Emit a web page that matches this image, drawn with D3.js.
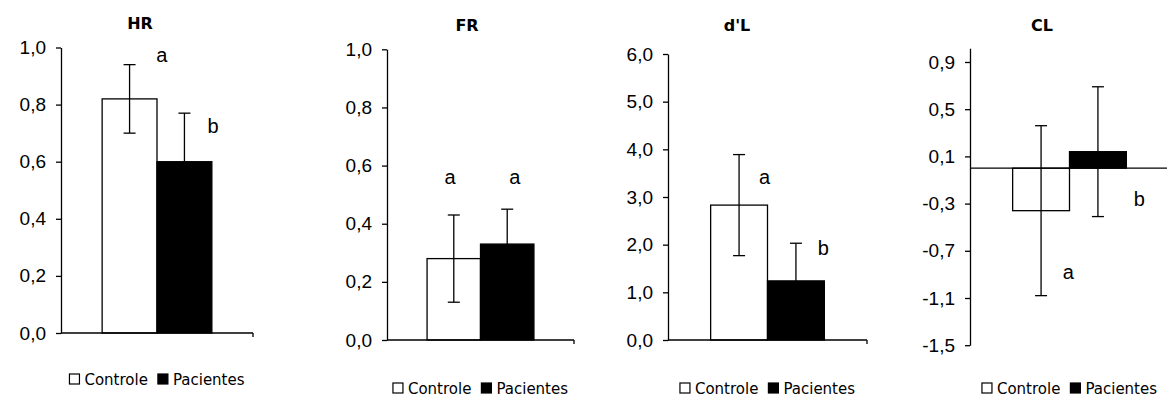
<!DOCTYPE html>
<html>
<head>
<meta charset="utf-8">
<script src="https://cdn.jsdelivr.net/npm/d3@7"></script>
<style>
  body { margin: 0; background: #fff; }
  svg { display: block; }
</style>
</head>
<body>
<svg id="chart" width="1167" height="399"></svg>
<script>
// values (mean +/- error)
const panelNames = ['HR', 'FR', "d'L", 'CL'];
const seriesNames = ['Controle', 'Pacientes'];
const controleMeans = [0.82, 0.28, 2.83, -0.36];
const controleErrors = [0.12, 0.15, 1.06, 0.72];
const pacientesMeans = [0.60, 0.33, 1.24, 0.14];
const pacientesErrors = [0.17, 0.12, 0.79, 0.55];
const controleLetters = ['a', 'a', 'a', 'a'];
const pacientesLetters = ['b', 'a', 'b', 'b'];

const yDomains = [[0, 1], [0, 1], [0, 6], [-1.5, 1.016]];
const yTickValues = [
  [0, 0.2, 0.4, 0.6, 0.8, 1.0],
  [0, 0.2, 0.4, 0.6, 0.8, 1.0],
  [0, 1, 2, 3, 4, 5, 6],
  [-1.5, -1.1, -0.7, -0.3, 0.1, 0.5, 0.9]
];

// where the significance letters sit: [fraction across the bar band, y value]
const letterSpots = [
  [[1.09, 0.974], [1.02, 0.725]],
  [[0.43, 0.562], [0.64, 0.562]],
  [[0.95, 3.43], [0.98, 1.93]],
  [[0.98, -0.879], [1.23, -0.263]]
];

const layout = [
  { left: 61, right: 253, top: 47.5, bottom: 333, titleX: 140, titleY: 23, legendY: 379 },
  { left: 387, right: 574, top: 49.3, bottom: 340, titleX: 467, titleY: 25, legendY: 388 },
  { left: 668, right: 867, top: 54, bottom: 340, titleX: 737, titleY: 25, legendY: 388 },
  { left: 970, right: 1169, top: 48.3, bottom: 345.2, titleX: 1042, titleY: 25, legendY: 388 }
];

const fmt = d3.formatLocale({
  decimal: ',', thousands: '.', grouping: [3], currency: ['', ''], minus: '-'
}).format('.1f');

const svg = d3.select('#chart');
svg.append('rect').attr('width', 1167).attr('height', 399).attr('fill', '#fff');

panelNames.forEach((name, i) => {
  const L = layout[i];
  const g = svg.append('g');

  const y = d3.scaleLinear().domain(yDomains[i]).range([L.bottom, L.top]);
  const x = d3.scaleBand().domain(seriesNames).range([L.left, L.right])
    .paddingInner(0).paddingOuter(0.75);

  const bars = [
    { s: 'Controle', m: controleMeans[i], e: controleErrors[i], fill: '#fff', letter: controleLetters[i], spot: letterSpots[i][0] },
    { s: 'Pacientes', m: pacientesMeans[i], e: pacientesErrors[i], fill: '#000', letter: pacientesLetters[i], spot: letterSpots[i][1] }
  ];

  // bars
  g.selectAll('.bar')
    .data(bars)
    .enter()
    .append('rect')
    .attr('class', 'bar')
    .attr('x', d => x(d.s))
    .attr('y', d => y(Math.max(0, d.m)))
    .attr('width', x.bandwidth())
    .attr('height', d => Math.abs(y(d.m) - y(0)))
    .attr('fill', d => d.fill)
    .attr('stroke', '#000')
    .attr('stroke-width', 1.3);

  // x axis line at zero
  g.append('line')
    .attr('x1', L.left).attr('x2', L.right)
    .attr('y1', y(0)).attr('y2', y(0))
    .attr('stroke', '#000').attr('stroke-width', 1.3);
  g.append('line')
    .attr('x1', L.right).attr('x2', L.right)
    .attr('y1', y(0)).attr('y2', y(0) + 4)
    .attr('stroke', '#000').attr('stroke-width', 1.3);

  // error bars
  const cap = 6;
  bars.forEach(d => {
    const cx = x(d.s) + x.bandwidth() / 2;
    g.append('line')
      .attr('x1', cx).attr('x2', cx)
      .attr('y1', y(d.m - d.e)).attr('y2', y(d.m + d.e))
      .attr('stroke', '#000').attr('stroke-width', 1.3);
    [d.m - d.e, d.m + d.e].forEach(v => {
      g.append('line')
        .attr('x1', cx - cap).attr('x2', cx + cap)
        .attr('y1', y(v)).attr('y2', y(v))
        .attr('stroke', '#000').attr('stroke-width', 1.3);
    });
  });

  // y axis
  const yAxis = g.append('g')
    .attr('transform', `translate(${L.left},0)`)
    .call(d3.axisLeft(y).tickValues(yTickValues[i]).tickFormat(fmt)
      .tickSize(5).tickSizeOuter(0).tickPadding(10));
  yAxis.select('.domain').attr('stroke-width', 1.3);
  yAxis.selectAll('.tick line').attr('stroke-width', 1.3);
  yAxis.selectAll('.tick text')
    .attr('font-family', 'Liberation Sans, Arial, sans-serif')
    .attr('font-size', 19)
    .attr('fill', '#000');

  // significance letters
  bars.forEach(d => {
    g.append('text')
      .attr('x', x(d.s) + d.spot[0] * x.bandwidth())
      .attr('y', y(d.spot[1]))
      .attr('dy', '0.35em')
      .attr('text-anchor', 'middle')
      .attr('font-family', 'Liberation Sans, Arial, sans-serif')
      .attr('font-size', 20)
      .text(d.letter);
  });

  // title
  g.append('text')
    .attr('x', L.titleX).attr('y', L.titleY)
    .attr('dy', '0.35em')
    .attr('text-anchor', 'middle')
    .attr('font-family', 'DejaVu Sans, sans-serif')
    .attr('font-weight', 'bold')
    .attr('font-size', 16)
    .text(name);

  // legend
  const lg = g.append('g');
  let cursor = 0;
  bars.forEach((d, k) => {
    lg.append('rect')
      .attr('x', cursor).attr('y', -5)
      .attr('width', 10).attr('height', 10)
      .attr('fill', d.fill).attr('stroke', '#000').attr('stroke-width', 1.2);
    cursor += 15;
    const t = lg.append('text')
      .attr('x', cursor).attr('y', 5.5)
      .attr('font-family', 'DejaVu Sans, sans-serif')
      .attr('font-size', 15)
      .text(d.s);
    cursor += t.node().getComputedTextLength() + (k === 0 ? 10 : 0);
  });
  const mid = (L.left + L.right) / 2;
  lg.attr('transform', `translate(${mid - cursor / 2},${L.legendY})`);
});
</script>
</body>
</html>
